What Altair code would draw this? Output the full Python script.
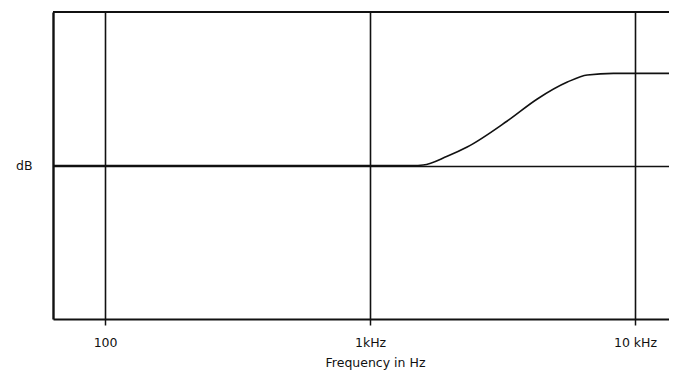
import altair as alt
import pandas as pd

# Response curve (frequency in Hz, level in dB relative to baseline)
freqs = [63.6, 1000, 1450, 1587, 1955, 2326, 3296, 4279, 5556, 6610, 8290, 10000, 13440]
levels = [0, 0, 0, 0.05, 0.9, 1.8, 4.35, 6.5, 8.15, 8.85, 9.0, 9.0, 9.0]

tick_values = [100, 1000, 10000]
tick_labels = ["100", "1kHz", "10 kHz"]

x_domain = [63.6, 13440]
y_domain = [-15, 15]

df = pd.DataFrame({"f": freqs, "db": levels})

label_expr = " : ".join(
    f"datum.value == {v} ? '{l}'" for v, l in zip(tick_values, tick_labels)
) + " : ''"

FONT = "DejaVu Sans"
FS = 12.5

curve = alt.Chart(df).mark_line(color="#111111", strokeWidth=1.6, interpolate="monotone").encode(
    x=alt.X(
        "f:Q",
        scale=alt.Scale(type="log", domain=x_domain, nice=False),
        axis=alt.Axis(
            values=tick_values,
            labelExpr=label_expr,
            grid=True,
            gridColor="#111111",
            gridWidth=1.6,
            gridOpacity=1,
            domain=True,
            domainColor="#111111",
            domainWidth=2.2,
            ticks=True,
            tickSize=6,
            tickWidth=1.5,
            tickColor="#111111",
            labelPadding=11,
            labelFont=FONT,
            labelFontSize=FS,
            labelColor="#111111",
            title="Frequency in Hz",
            titleFont=FONT,
            titleFontSize=FS,
            titleFontWeight="normal",
            titleColor="#111111",
            titleX=322,
            titleY=43,
            titleAlign="center",
            titleBaseline="middle",
        ),
    ),
    y=alt.Y(
        "db:Q",
        scale=alt.Scale(domain=y_domain, nice=False),
        axis=alt.Axis(
            values=[0],
            labelExpr="'dB'",
            grid=True,
            gridColor="#111111",
            gridWidth=1.6,
            gridOpacity=1,
            domain=True,
            domainColor="#111111",
            domainWidth=2.4,
            ticks=False,
            labelPadding=21,
            labelFont=FONT,
            labelFontSize=FS,
            labelColor="#111111",
            title=None,
        ),
    ),
)

top = alt.Chart(df).mark_rule(color="#111111", strokeWidth=2.2).encode(y=alt.value(0))

chart = alt.layer(curve, top).properties(
    width=616,
    height=307,
    autosize=alt.AutoSizeParams(type="none"),
    padding={"left": 45, "top": 4, "right": 0, "bottom": 52},
).configure_view(stroke=None).configure(background="white")

chart.save("out.html", embed_options={"renderer": "svg", "actions": False})
